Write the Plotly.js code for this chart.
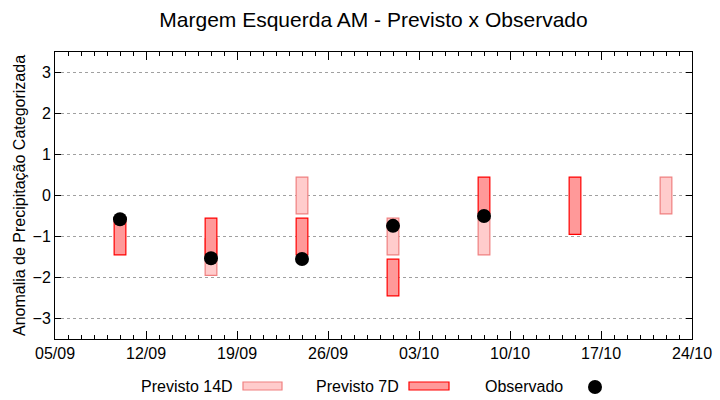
<!DOCTYPE html>
<html>
<head>
<meta charset="utf-8">
<script src="https://cdn.plot.ly/plotly-3.0.1.min.js"></script>
<style>html,body{margin:0;padding:0;background:#fff;}#chart{width:720px;height:400px;}</style>
</head>
<body>
<div id="chart"></div>
<script>
// ---- data ----
const dates = ['2025-09-10','2025-09-17','2025-09-24','2025-10-01','2025-10-08','2025-10-15','2025-10-22'];
const prev14Low  = [null, -1.95, -0.45, -1.45, -1.45, null, -0.45];
const prev14High = [null, -1.05,  0.45, -0.55, -0.55, null,  0.45];
const prev7Low   = [-1.45, -1.45, -1.45, -2.45, -0.45, -0.95, null];
const prev7High  = [-0.55, -0.55, -0.55, -1.55,  0.45,  0.45, null];
const obsDates   = ['2025-09-10','2025-09-17','2025-09-24','2025-10-01','2025-10-08'];
const observed   = [-0.58, -1.53, -1.55, -0.74, -0.50];
const xTickVals  = ['2025-09-05','2025-09-12','2025-09-19','2025-09-26','2025-10-03','2025-10-10','2025-10-17','2025-10-24'];
const xTickText  = ['05/09','12/09','19/09','26/09','03/10','10/10','17/10','24/10'];
const yTickVals  = [-3,-2,-1,0,1,2,3];

const DAY = 86400000;
const FONT = 'Liberation Sans, Arial, sans-serif';
const c14 = {fill:'#ffcccc', line:'#f08080'};
const c7  = {fill:'#ff9999', line:'#ff0000'};

function span(lo, hi){ return lo.map((v,i)=> (v===null||hi[i]===null) ? null : hi[i]-v); }

const traces = [
  {type:'bar', name:'Previsto 14D', x:dates, base:prev14Low, y:span(prev14Low,prev14High),
   width:0.9*DAY, marker:{color:c14.fill, line:{color:c14.line, width:1.2}}, showlegend:false},
  {type:'bar', name:'Previsto 7D', x:dates, base:prev7Low, y:span(prev7Low,prev7High),
   width:0.9*DAY, marker:{color:c7.fill, line:{color:c7.line, width:1.2}}, showlegend:false},
  {type:'scatter', mode:'markers', name:'Observado', x:obsDates, y:observed,
   marker:{color:'#000', size:14, symbol:'circle'}, showlegend:false}
];

// plot area in pixels
const L=55, R=692, T=52, B=339;
const px = v => (v-L)/(R-L);
const py = v => (B-v)/(B-T);

const legendY = 386;
const annotations = [
  {text:'Previsto 14D', x:px(235), y:py(legendY)},
  {text:'Previsto 7D', x:px(401), y:py(legendY)},
  {text:'Observado', x:px(565), y:py(legendY)}
].map(a=>Object.assign({xref:'paper', yref:'paper', xanchor:'right', yanchor:'middle', showarrow:false,
  font:{family:FONT, size:16, color:'#000'}}, a));

const shapes = [
  {type:'rect', xref:'paper', yref:'paper', x0:px(243), x1:px(282), y0:py(390), y1:py(382),
   fillcolor:c14.fill, line:{color:c14.line, width:1.2}},
  {type:'rect', xref:'paper', yref:'paper', x0:px(409), x1:px(449), y0:py(390), y1:py(382),
   fillcolor:c7.fill, line:{color:c7.line, width:1.2}},
  {type:'circle', xref:'paper', yref:'paper', x0:px(588), x1:px(602), y0:py(394), y1:py(380),
   fillcolor:'#000', line:{color:'#000', width:0}}
];

const layout = {
  width:720, height:400,
  margin:{l:L, r:720-R, t:T, b:400-B, pad:0},
  paper_bgcolor:'#fff', plot_bgcolor:'#fff',
  font:{family:FONT, size:16, color:'#000'},
  title:{text:'Margem Esquerda AM - Previsto x Observado', font:{family:FONT, size:21, color:'#000'},
         xref:'paper', x:0.5, xanchor:'center', yref:'container', y:1-20/400, yanchor:'middle'},
  barmode:'overlay',
  showlegend:false,
  xaxis:{type:'date', range:['2025-09-05','2025-10-24'], tickvals:xTickVals, ticktext:xTickText,
    ticks:'inside', ticklen:8, tickwidth:1, tickcolor:'#000', showline:true, linecolor:'#000', linewidth:1,
    mirror:'allticks', showgrid:false, zeroline:false, tickfont:{size:16},
    minor:{dtick:DAY, tick0:'2025-09-05', ticks:'inside', ticklen:4, tickcolor:'#000', tickwidth:1, showgrid:false}},
  yaxis:{range:[-3.5,3.5], tickvals:yTickVals, ticks:'inside', ticklen:6, tickwidth:1, tickcolor:'#000',
    showline:true, linecolor:'#000', linewidth:1, mirror:'allticks', zeroline:false,
    showgrid:true, gridcolor:'#a0a0a0', gridwidth:1, griddash:'dot', tickfont:{size:16},
    title:{text:'Anomalia de Precipitação Categorizada', font:{size:16}, standoff:2}},
  annotations:annotations,
  shapes:shapes
};

Plotly.newPlot('chart', traces, layout, {staticPlot:true, displayModeBar:false});
</script>
</body>
</html>
